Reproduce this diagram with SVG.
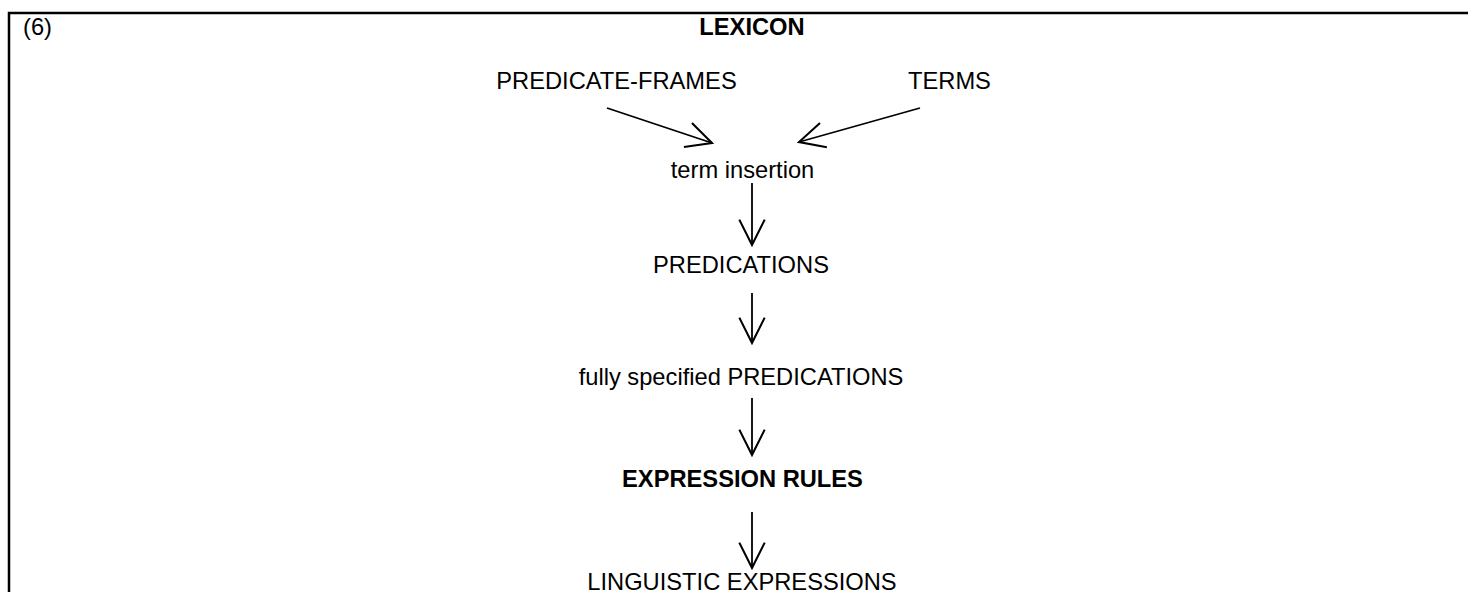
<svg xmlns="http://www.w3.org/2000/svg" width="1468" height="592" viewBox="0 0 1468 592">
<style>
text{font-family:"Liberation Sans",Arial,sans-serif;font-size:23.7px;fill:#000}
.b{font-weight:bold}
.c{text-anchor:middle}
.ln{stroke:#000;stroke-width:1.8;fill:none;marker-end:url(#ah)}
</style>
<defs>
<marker id="ah" markerUnits="userSpaceOnUse" markerWidth="30" markerHeight="30" viewBox="-24 -13 26 26" refX="0" refY="0" orient="auto">
<path d="M-22,-11 L0,0 L-22,11" fill="none" stroke="#000" stroke-width="1.8"/>
</marker>
</defs>
<rect width="1468" height="592" fill="#fff"/>
<path d="M9,592 V13 H1468" fill="none" stroke="#000" stroke-width="2.5"/>
<text x="23" y="35">(6)</text>
<g id="lexicon"><text class="b c" x="752" y="35">LEXICON</text></g>
<g id="predicate-frames"><text class="c" x="616.5" y="89">PREDICATE-FRAMES</text></g>
<g id="terms"><text x="908" y="89">TERMS</text></g>
<g id="term-insertion"><text class="c" x="742.5" y="178">term insertion</text></g>
<g id="predications"><text class="c" x="741" y="273">PREDICATIONS</text></g>
<g id="fully-specified"><text class="c" x="741" y="385">fully specified PREDICATIONS</text></g>
<g id="expression-rules"><text class="b c" x="742.5" y="487">EXPRESSION RULES</text></g>
<g id="linguistic-expressions"><text class="c" x="742" y="590">LINGUISTIC EXPRESSIONS</text></g>
<g id="connectors">
<path class="ln" d="M607,108 L712,143"/>
<path class="ln" d="M920,108 L799,142"/>
<path class="ln" d="M752,183 V245"/>
<path class="ln" d="M752,293 V343"/>
<path class="ln" d="M752,398 V455"/>
<path class="ln" d="M752,512 V568"/>
</g>
</svg>
